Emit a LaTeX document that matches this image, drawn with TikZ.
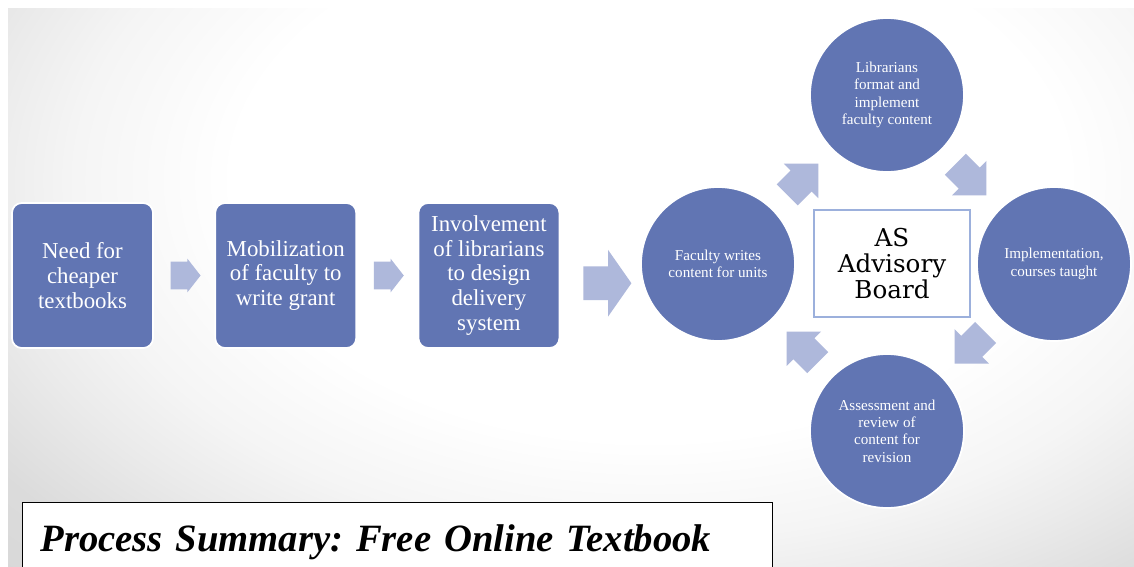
\documentclass[tikz,border=0pt]{standalone}
\usepackage{fontspec}
\setmainfont{Liberation Serif}
\newfontfamily\boardfont{DejaVu Serif}
\usepackage{tikz}
\usetikzlibrary{shapes.arrows,positioning,calc}
\usepackage{xcolor}
\definecolor{stepblue}{HTML}{6175B3}
\definecolor{arrowblue}{HTML}{AEB8DB}
\definecolor{boardline}{HTML}{9CB0DC}
\pgfdeclareradialshading{slideshade}{\pgfpoint{0bp}{0bp}}{color(0bp)=(white); color(13bp)=(white);
  color(18bp)=(black!4); color(21bp)=(black!8); color(25bp)=(black!14); color(30bp)=(black!16)}

\begin{document}
\begin{tikzpicture}[x=0.02cm, y=-0.02cm,
      every node/.style={align=center, inner sep=0pt},
      stepbox/.style={rectangle, rounded corners=5.5pt, fill=stepblue, draw=white, line width=1pt,
          text=white, minimum width=2.82cm, minimum height=2.9cm,
          font=\fontsize{13pt}{14.2pt}\selectfont},
      stepcircle/.style={circle, fill=stepblue, draw=white, line width=1pt, text=white,
          minimum size=3.08cm, font=\fontsize{8.6pt}{9.9pt}\selectfont},
      flowarrow/.style={single arrow, fill=arrowblue, inner xsep=0pt, inner ysep=0.27cm,
          minimum height=0.6cm, single arrow head extend=0.06cm, single arrow tip angle=104,
          single arrow head indent=0pt, anchor=tail},
      bigarrow/.style={single arrow, fill=arrowblue, inner xsep=0pt, inner ysep=0.33cm,
          minimum height=0.96cm, single arrow head extend=0.33cm, single arrow tip angle=110,
          single arrow head indent=0pt, anchor=tail},
      cyclearrow/.style={single arrow, fill=arrowblue, inner xsep=0pt, inner ysep=0.29cm,
          minimum height=0.88cm, single arrow head extend=0.19cm, single arrow tip angle=90,
          single arrow head indent=0pt, anchor=tail}
    ]
    \useasboundingbox (0,0) rectangle (1134,566);
    \fill[white] (0,0) rectangle (1134,566);
    \begin{scope}
      \clip (8,8) rectangle (1134,566);
      \shade[shading=slideshade] (-150,-320) rectangle (1450,680);
    \end{scope}

    \node[stepbox] (need) at (82.5,275.5) {Need for\\cheaper\\textbooks};
    \node[stepbox, right=1.21cm of need] (mobil) {Mobilization\\of faculty to\\write grant};
    \node[stepbox, right=1.21cm of mobil] (involve) {Involvement\\of librarians\\to design\\delivery\\system};

    \node[stepcircle] (writes) at (718,264) {Faculty writes\\content for units};
    \node[stepcircle] (format) at (887,95) {Librarians\\format and\\implement\\faculty content};
    \node[stepcircle] (taught) at (1054,264) {Implementation,\\courses taught};
    \node[stepcircle] (review) at (887,431) {Assessment and\\review of\\content for\\revision};
    \node[rectangle, fill=white, draw=boardline, line width=0.8pt, minimum width=3.12cm,
          minimum height=2.14cm, font=\boardfont\fontsize{14pt}{15pt}\selectfont] (board)
          at (892,263.5) {AS\\Advisory\\Board};

    \node[flowarrow] (arr1) at ($(need.east)!0.27!(mobil.west)$) {};
    \node[flowarrow] (arr2) at ($(mobil.east)!0.27!(involve.west)$) {};
    \node[bigarrow] (arr3) at ($(involve.east)!0.285!(writes.west)+(0,11)$) {};
    \node[cyclearrow, rotate=45] (arr4) at ($(writes)!0.408!(format)$) {};
    \node[cyclearrow, rotate=-45] (arr5) at ($(format)!0.408!(taught)$) {};
    \node[cyclearrow, rotate=-135] (arr6) at ($(taught)!0.408!(review)$) {};
    \node[cyclearrow, rotate=135] (arr7) at ($(review)!0.408!(writes)$) {};

    \node[rectangle, draw=black, fill=white, line width=0.6pt, anchor=north west,
          minimum width=15cm, minimum height=1.6cm, inner xsep=0.36cm, text width=14.28cm,
          align=left, font=\fontsize{22pt}{26pt}\selectfont\bfseries\itshape\frenchspacing] (title)
          at (22,502) {Process Summary: Free Online Textbook};
\end{tikzpicture}
\end{document}
